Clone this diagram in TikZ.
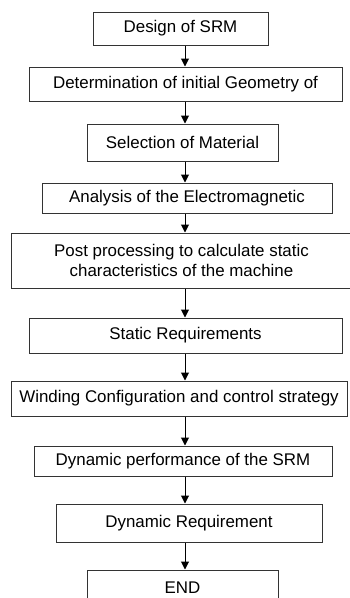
\documentclass[tikz,border=0pt]{standalone}
\usepackage{fontspec}
\setmainfont{Liberation Sans}
\usetikzlibrary{arrows.meta}

\begin{document}
\begin{tikzpicture}[x=1pt,y=-1pt,
    box/.style={draw=black!80, line width=1pt, inner sep=0pt, align=center,
                font=\fontsize{16.9}{20}\selectfont},
    flow/.style={line width=1pt, -{Triangle[width=8pt,length=8pt]}}]
  	\useasboundingbox (0,0) rectangle (350,598);

  	% the steps, top to bottom
  	\node[box, minimum width=175, minimum height=33] (design)   at (180.5, 28.5) {Design of SRM};
  	\node[box, minimum width=313, minimum height=34] (geometry) at (185.5, 84)   {Determination of initial Geometry of};
  	\node[box, minimum width=191, minimum height=37] (material) at (182.5, 142.5) {Selection of Material};
  	\node[box, minimum width=290, minimum height=30] (analysis) at (187, 198)    {Analysis of the Electromagnetic};
  	\node[box, minimum width=341, minimum height=55] (post)     at (181.5, 260.5) {Post processing to calculate static\\characteristics of the machine};
  	\node[box, minimum width=313, minimum height=35] (statreq)  at (185.5, 335.5) {Static Requirements};
  	\node[box, minimum width=336, minimum height=35] (winding)  at (179, 398.5)  {Winding Configuration and control strategy};
  	\node[box, minimum width=298, minimum height=30] (dynperf)  at (183, 461)    {Dynamic performance of the SRM};
  	\node[box, minimum width=266, minimum height=38] (dynreq)   at (189, 523)    {Dynamic Requirement};
  	\node[box, minimum width=191, minimum height=36] (end)      at (182.5, 588)  {END};

  	% arrows all run down one line
  	\coordinate (axis) at (185, 0);
  	\draw[flow] (design.south -| axis)   -- (geometry.north -| axis);
  	\draw[flow] (geometry.south -| axis) -- (material.north -| axis);
  	\draw[flow] (material.south -| axis) -- (analysis.north -| axis);
  	\draw[flow] (analysis.south -| axis) -- (post.north -| axis);
  	\draw[flow] (post.south -| axis)     -- (statreq.north -| axis);
  	\draw[flow] (statreq.south -| axis)  -- (winding.north -| axis);
  	\draw[flow] (winding.south -| axis)  -- (dynperf.north -| axis);
  	\draw[flow] (dynperf.south -| axis)  -- (dynreq.north -| axis);
  	\draw[flow] (dynreq.south -| axis)   -- (end.north -| axis);

\end{tikzpicture}
\end{document}
